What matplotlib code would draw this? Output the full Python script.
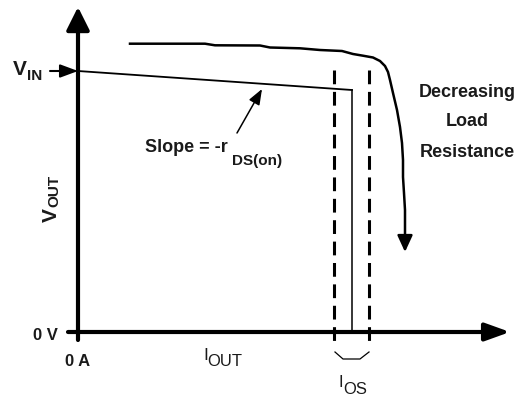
import matplotlib.pyplot as plt

plt.rcParams["font.family"] = ["Liberation Sans", "DejaVu Sans"]

# working units: current on x, voltage on y (origin = 0 A / 0 V)
V_IN = 261
I_LIMIT = 274
V_AT_LIMIT = 242
IOS_BAND = [256, 291]

# load-line curve for decreasing load resistance
CURVE_I = [52, 127, 137, 182, 192, 222, 242, 264, 275, 285, 295, 302, 307,
           310, 312, 315, 319, 322, 324, 325, 325, 326, 327, 327, 327]
CURVE_V = [288.3, 288.3, 286.7, 286.5, 284.5, 283.7, 282, 281, 278, 276.3,
           274.5, 271, 266, 260, 252, 239, 222, 205, 189, 172, 155, 139, 122,
           105, 94]
CURVE_TIP_V = 80

# brace under the I_OS band
BRACE_I = [257, 265, 282, 291]
BRACE_V = [-20, -27, -27, -20]

X_AXIS = (-10, 432)
Y_AXIS = (-8, 325)

INK = "#1a1a1a"

fig = plt.figure(figsize=(5.19, 4.0), dpi=100)
ax = fig.add_axes([0, 0, 1, 1])
ax.set_xlim(-78, 441)
ax.set_ylim(-68, 332)
ax.axis("off")


def arrow(x0, y0, x1, y1, lw, hl, hw):
    ax.annotate("", xy=(x1, y1), xytext=(x0, y0),
                arrowprops=dict(arrowstyle=f"-|>,head_length={hl},head_width={hw}",
                                mutation_scale=20, lw=lw, color="black",
                                shrinkA=0, shrinkB=0))


# axes
arrow(0, Y_AXIS[0], 0, Y_AXIS[1], 3, 0.7, 0.35)
arrow(X_AXIS[0], 0, X_AXIS[1], 0, 3, 0.75, 0.27)

# V_IN marker arrow
arrow(-28, V_IN, 0, V_IN, 1.5, 0.54, 0.2)

# switch output: slope then current limit
ax.plot([0, I_LIMIT], [V_IN, V_AT_LIMIT], color="black", lw=1.3)
ax.plot([I_LIMIT, I_LIMIT], [V_AT_LIMIT, 0], color="black", lw=1.1)

# I_OS band
for xi in IOS_BAND:
    ax.plot([xi, xi], [262, -10], color="black", lw=2.2,
            dashes=(4.5, 2.5), dash_capstyle="butt")
ax.plot(BRACE_I, BRACE_V, color="black", lw=0.9)

# decreasing load curve
ax.plot(CURVE_I, CURVE_V, color="black", lw=1.8, solid_joinstyle="round")
arrow(CURVE_I[-1], CURVE_V[-1], CURVE_I[-1], CURVE_TIP_V, 1.8, 0.5, 0.23)

# slope pointer
arrow(159, 199, 184, 243, 1.1, 0.47, 0.18)

# labels
bold = dict(color=INK, fontweight="bold")
ax.text(-65, 257, "V", fontsize=15, ha="left", va="baseline", **bold)
ax.text(-51, 252, "IN", fontsize=11, ha="left", va="baseline", **bold)

ax.text(-27, 110, "V", fontsize=15, rotation=90, ha="center", va="bottom", **bold)
ax.text(-24, 125, "OUT", fontsize=11, rotation=90, ha="center", va="bottom", **bold)

ax.text(-20, -8, "0 V", fontsize=12, ha="right", va="baseline", **bold)
ax.text(-13, -34, "0 A", fontsize=12, ha="left", va="baseline", **bold)

ax.text(125, -28, "I", fontsize=12.5, ha="left", va="baseline", color=INK)
ax.text(129, -34, "OUT", fontsize=12, ha="left", va="baseline", color=INK)

ax.text(261, -55, "I", fontsize=12, ha="left", va="baseline", color=INK)
ax.text(265, -62, "OS", fontsize=12, ha="left", va="baseline", color=INK)

ax.text(67, 180, "Slope = -r", fontsize=13, ha="left", va="baseline", **bold)
ax.text(154, 167, "DS(on)", fontsize=11, ha="left", va="baseline", **bold)

for label, vy in [("Decreasing", 235), ("Load", 206), ("Resistance", 175)]:
    ax.text(389, vy, label, fontsize=13, ha="center", va="baseline", **bold)

fig.savefig("out.png", dpi=100)
